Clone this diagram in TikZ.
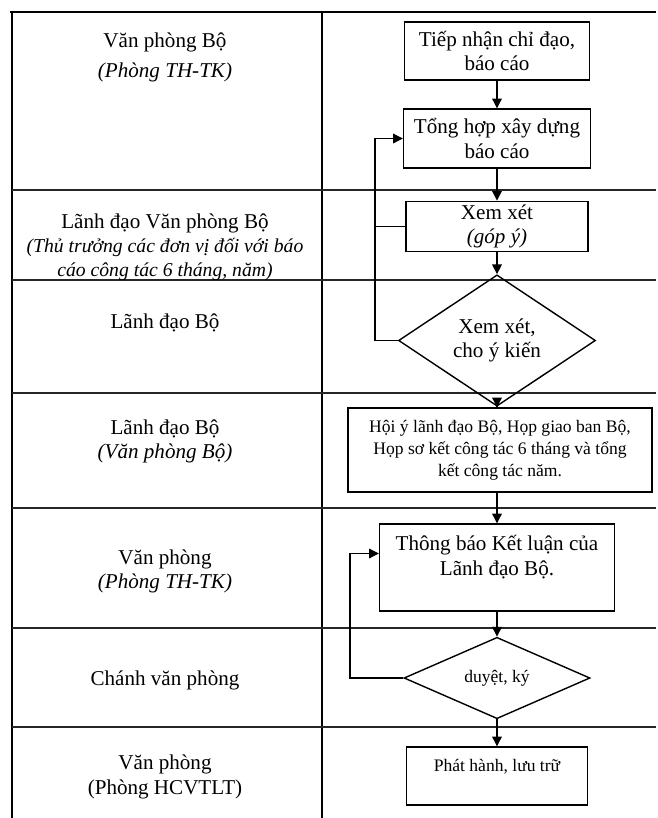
\documentclass[tikz,border=0pt]{standalone}
\usepackage{fontspec}
\setmainfont{Liberation Serif}
\usetikzlibrary{arrows.meta, shapes.geometric, positioning}

\begin{document}
\begin{tikzpicture}[
  every node/.style = {font=\fontsize{12}{13.8}\selectfont},
  lane/.style     = {align=center},
  procbox/.style  = {rectangle, draw=black, line width=0.8pt,
                     align=center, inner sep=2pt},
  smallbox/.style = {procbox, font=\fontsize{10}{12.6}\selectfont},
  decbox/.style   = {diamond, draw=black, line width=0.8pt,
                     align=center, inner sep=0pt},
  laneline/.style = {line width=0.6pt, black!85},
  arr/.style = {-{Triangle[length=5.5pt, width=5.5pt]}, line width=0.6pt, black},
]
\useasboundingbox (0,0) rectangle (13.16,-16.36);

%% ── Swimlane frame ───────────────────────────────────────────────────────
\draw[line width=1.6pt] (0.2,-0.24) -- (13.12,-0.24);
\draw[line width=1.2pt] (0.24,-0.24) -- (0.24,-16.36);
\draw[line width=1.2pt] (6.44,-0.24) -- (6.44,-16.36);
\foreach \y in {3.80, 5.60, 7.86, 10.16, 12.56, 14.54}
  \draw[laneline] (0.24,-\y) -- (13.12,-\y);

%% ── Lane labels ──────────────────────────────────────────────────────────
\node[lane] at (3.3, -1.15) (lane1) {Văn phòng Bộ\\[3pt]\textit{(Phòng TH-TK)}};
\node[lane] at (3.3, -4.95) (lane2) {
  Lãnh đạo Văn phòng Bộ\\
  {\fontsize{11.2}{13}\selectfont\itshape (Thủ trưởng  các đơn vị đối với báo}\\
  {\fontsize{11.2}{13}\selectfont\itshape cáo công tác 6 tháng, năm)}
};
\node[lane] at (3.3, -6.46) (lane3) {Lãnh đạo Bộ};
\node[lane] at (3.3, -8.83) (lane4) {Lãnh đạo Bộ\\\textit{(Văn phòng Bộ)}};
\node[lane] at (3.3, -11.43) (lane5) {Văn phòng\\\textit{(Phòng TH-TK)}};
\node[lane] at (3.3, -13.6) (lane6) {Chánh văn phòng};
\node[lane] at (3.3, -15.54) (lane7) {Văn phòng\\(Phòng HCVTLT)};

%% ── Steps ────────────────────────────────────────────────────────────────
\node[procbox, minimum width=3.70cm, minimum height=1.16cm]
  at (9.94, -1.02) (recv) {Tiếp nhận chỉ đạo,\\báo  cáo};

\node[procbox, minimum width=3.74cm, minimum height=1.18cm]
  at (9.94, -2.77) (compile) {Tổng hợp xây dựng\\báo cáo};

\node[procbox, minimum width=3.64cm, minimum height=0.86cm]
  at (9.94, -4.53) (review) {Xem xét\\\textit{(góp ý)}};

\node[decbox, minimum width=3.94cm, minimum height=1.90cm]
  at (9.94, -6.81) (opinion) {Xem xét,\\cho ý kiến};

\node[smallbox, minimum width=6.08cm, minimum height=1.68cm]
  at (10.0, -9.0) (meeting) {
  Hội ý lãnh đạo Bộ, Họp giao ban Bộ,\\
  Họp  sơ kết công tác 6 tháng và tổng\\
  kết công tác năm.
};

\node[procbox, minimum width=4.70cm, minimum height=1.74cm]
  at (9.94, -11.35) (notice) {Thông báo Kết luận  của\\Lãnh đạo Bộ.\\ ~};

\node[decbox, font=\fontsize{10}{12.6}\selectfont,
      minimum width=3.72cm, minimum height=1.0cm]
  at (9.94, -13.56) (sign) {duyệt, ký};

\node[smallbox, minimum width=3.62cm, minimum height=1.16cm]
  at (9.94, -15.52) (issue) {Phát hành, lưu trữ\\ ~};

%% ── Main vertical arrows ─────────────────────────────────────────────────
\draw[arr] (recv)    -- (compile);
\draw[arr] (compile) -- (review);
\draw[arr] (review)  -- (opinion);
\draw[arr] (opinion.south) -- (opinion.south |- meeting.north);
\draw[arr] (meeting.south -| notice.north) -- (notice.north);
\draw[arr] (notice)  -- (sign);
\draw[arr] (sign)    -- (issue);

%% ── Loop-back arrows ─────────────────────────────────────────────────────
\coordinate (back1) at (7.50, -6.81);
\draw[arr] (opinion.west) -- (back1) |- (compile.west);
\draw[line width=0.6pt] (review.west) -- (review.west -| back1);

\coordinate (back2) at (7.00, -13.56);
\draw[arr] (sign.west) -- (back2) |- ([yshift=0.28cm]notice.west);

\end{tikzpicture}
\end{document}
